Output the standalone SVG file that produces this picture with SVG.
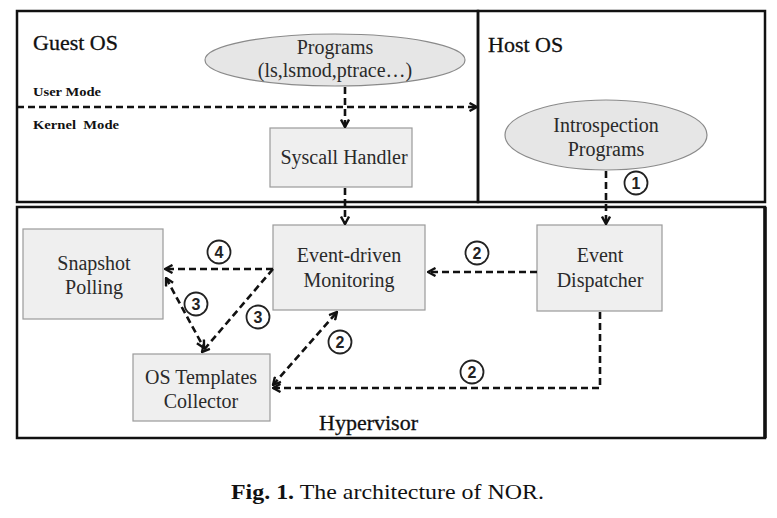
<svg xmlns="http://www.w3.org/2000/svg" width="777" height="518" viewBox="0 0 777 518">
<style>
.frame{fill:none;stroke:#111;stroke-width:2.5}
.box{fill:#efefef;stroke:#9a9a9a;stroke-width:1.2}
.ell{fill:#e6e6e6;stroke:#8a8a8a;stroke-width:1.2}
.t{font-family:"Liberation Serif","Times New Roman",serif;fill:#2a2a2a;font-size:20px;text-anchor:middle}
.big{font-family:"Liberation Serif","Times New Roman",serif;fill:#111;font-size:22px;stroke:#111;stroke-width:0.3}
.mode{font-family:"Liberation Serif","Times New Roman",serif;fill:#111;font-size:13px;font-weight:bold}
.c{fill:#fff;stroke:#222;stroke-width:1.8}
.n{font-family:"Liberation Sans",Arial,sans-serif;font-size:16px;font-weight:bold;fill:#222;text-anchor:middle}
.d{fill:none;stroke:#111;stroke-width:2.6;stroke-dasharray:7 4}
</style>
<defs>
<marker id="ah" viewBox="0 0 10 10" refX="9" refY="5" markerWidth="10" markerHeight="10" markerUnits="userSpaceOnUse" orient="auto-start-reverse">
<path d="M1.5,1 L9,5 L1.5,9" fill="none" stroke="#111" stroke-width="2.4"/>
</marker>
</defs>
<rect width="777" height="518" fill="#fff"/>
<g id="guest-os">
<rect class="frame" x="17" y="11" width="461" height="191"/>
<text class="big" x="33" y="50">Guest OS</text>
<text class="mode" x="33" y="96" textLength="68" lengthAdjust="spacingAndGlyphs">User Mode</text>
<text class="mode" x="33" y="129" textLength="86" lengthAdjust="spacingAndGlyphs" xml:space="preserve">Kernel  Mode</text>
</g>
<g id="host-os">
<rect class="frame" x="478" y="11" width="287" height="191"/>
<text class="big" x="488" y="52">Host OS</text>
</g>
<g id="hypervisor">
<rect class="frame" x="17" y="207" width="748" height="231"/>
<line x1="765" y1="207" x2="765" y2="438" stroke="#111" stroke-width="3.5"/>
<text class="big" x="319" y="430">Hypervisor</text>
</g>
<g id="programs">
<ellipse class="ell" cx="335" cy="60" rx="130" ry="26"/>
<text class="t" x="335" y="54">Programs</text>
<text class="t" x="335" y="77">(ls,lsmod,ptrace…)</text>
</g>
<g id="syscall-handler">
<rect class="box" x="270" y="128" width="142" height="59"/>
<text class="t" x="344" y="164">Syscall Handler</text>
</g>
<g id="introspection-programs">
<ellipse class="ell" cx="606" cy="135" rx="101" ry="35"/>
<text class="t" x="606" y="132">Introspection</text>
<text class="t" x="606" y="156">Programs</text>
</g>
<g id="snapshot-polling">
<rect class="box" x="23" y="229" width="140" height="90"/>
<text class="t" x="94" y="270">Snapshot</text>
<text class="t" x="94" y="294">Polling</text>
</g>
<g id="event-driven-monitoring">
<rect class="box" x="273" y="225" width="152" height="85"/>
<text class="t" x="349" y="262">Event-driven</text>
<text class="t" x="349" y="287">Monitoring</text>
</g>
<g id="event-dispatcher">
<rect class="box" x="537" y="225" width="125" height="86"/>
<text class="t" x="600" y="262">Event</text>
<text class="t" x="600" y="287">Dispatcher</text>
</g>
<g id="os-templates-collector">
<rect class="box" x="133" y="354" width="137" height="67"/>
<text class="t" x="201" y="384">OS Templates</text>
<text class="t" x="201" y="408">Collector</text>
</g>
<g id="connectors">
<line class="d" x1="17" y1="107" x2="477" y2="107" marker-end="url(#ah)"/>
<line class="d" x1="345" y1="87" x2="345" y2="127" marker-end="url(#ah)"/>
<line class="d" x1="345" y1="188" x2="345" y2="224" marker-end="url(#ah)"/>
<line class="d" x1="606" y1="171" x2="606" y2="224" marker-end="url(#ah)"/>
<line class="d" x1="537" y1="272" x2="428" y2="272" marker-end="url(#ah)"/>
<line class="d" x1="273" y1="269" x2="165" y2="269" marker-end="url(#ah)"/>
<line class="d" x1="273" y1="269" x2="202" y2="352" marker-end="url(#ah)"/>
<line class="d" x1="166" y1="278" x2="204" y2="348" marker-start="url(#ah)" marker-end="url(#ah)"/>
<line class="d" x1="273" y1="385" x2="337" y2="312" marker-start="url(#ah)" marker-end="url(#ah)"/>
<polyline class="d" points="600,312 600,388 273,388" marker-end="url(#ah)"/>
</g>
<g id="labels">
<circle class="c" cx="636" cy="183" r="11.5"/><text class="n" x="636" y="189">1</text>
<circle class="c" cx="219" cy="252" r="11.5"/><text class="n" x="219" y="258">4</text>
<circle class="c" cx="477" cy="253" r="11.5"/><text class="n" x="477" y="259">2</text>
<circle class="c" cx="196" cy="304" r="11.5"/><text class="n" x="196" y="310">3</text>
<circle class="c" cx="258" cy="317" r="11.5"/><text class="n" x="258" y="323">3</text>
<circle class="c" cx="340" cy="342" r="11.5"/><text class="n" x="340" y="348">2</text>
<circle class="c" cx="472" cy="372" r="11.5"/><text class="n" x="472" y="378">2</text>
</g>
<text x="231" y="499" font-family="'Liberation Serif','Times New Roman',serif" font-size="22" fill="#111" textLength="313" lengthAdjust="spacingAndGlyphs"><tspan font-weight="bold">Fig. 1.</tspan> The architecture of NOR.</text>
</svg>
